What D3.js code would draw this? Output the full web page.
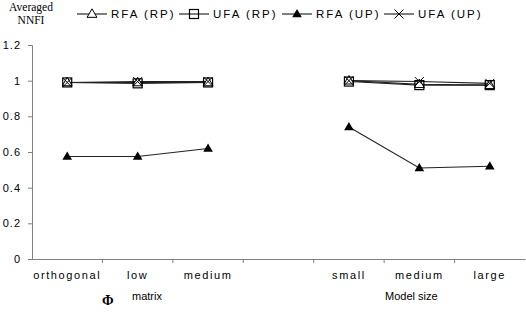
<!DOCTYPE html>
<html>
<head>
<meta charset="utf-8">
<script src="https://cdn.jsdelivr.net/npm/d3@7"></script>
<style>
body{margin:0;background:#fff;}
svg text{font-family:Arial,"Liberation Sans",sans-serif;fill:#000;}
</style>
</head>
<body>
<svg id="chart" width="526" height="313"></svg>
<script>
var categories = ["orthogonal", "low", "medium", "", "small", "medium", "large"];
var rfaRP = [0.99, 0.99, 0.99, null, 1.0, 0.98, 0.975];
var ufaRP = [0.99, 0.985, 0.99, null, 0.995, 0.975, 0.975];
var rfaUP = [0.575, 0.575, 0.62, null, 0.74, 0.51, 0.52];
var ufaUP = [0.99, 0.995, 0.995, null, 1.0, 0.995, 0.985];
var yTicks = [0, 0.2, 0.4, 0.6, 0.8, 1, 1.2];

var series = [
  {name: "RFA (RP)", values: rfaRP, marker: "triOpen"},
  {name: "UFA (RP)", values: ufaRP, marker: "square"},
  {name: "RFA (UP)", values: rfaUP, marker: "triFill"},
  {name: "UFA (UP)", values: ufaUP, marker: "cross"}
];

var svg = d3.select("#chart");

var x = d3.scaleBand().domain(d3.range(categories.length)).range([32, 525]);
var y = d3.scaleLinear().domain([0, 1.2]).range([259, 45]);

// y axis
var yAxis = svg.append("g").attr("transform", "translate(32,0)")
  .call(d3.axisLeft(y).tickValues(yTicks).tickSize(4).tickPadding(7)
    .tickFormat(function(d){ return d; }));
yAxis.select(".domain").attr("stroke", "#808080");
yAxis.selectAll(".tick line").attr("stroke", "#808080");
yAxis.selectAll("text").style("font-size", "11px").style("letter-spacing", "1px");

// x axis
var xAxis = svg.append("g").attr("transform", "translate(0,259)")
  .call(d3.axisBottom(x).tickSize(0).tickPadding(12).tickFormat(function(i){ return categories[i]; }));
xAxis.select(".domain").attr("stroke", "#808080");
xAxis.selectAll("text").style("font-size", "11px").style("letter-spacing", "1.6px");
// tick marks between categories
svg.append("g").selectAll("line").data(d3.range(1, categories.length)).join("line")
  .attr("x1", function(i){ return x(i); }).attr("x2", function(i){ return x(i); })
  .attr("y1", 259).attr("y2", 263).attr("stroke", "#808080");

function drawMarker(g, type, cx, cy){
  if (type == "triOpen") {
    g.append("path").attr("d", d3.symbol(d3.symbolTriangle, 42)())
      .attr("transform", "translate(" + cx + "," + (cy + 0.5) + ")")
      .attr("fill", "#fff").attr("stroke", "#000").attr("stroke-width", 1);
  } else if (type == "square") {
    g.append("rect").attr("x", cx - 4.5).attr("y", cy - 4.5).attr("width", 9).attr("height", 9)
      .attr("fill", "none").attr("stroke", "#000").attr("stroke-width", 1.2);
  } else if (type == "triFill") {
    g.append("path").attr("d", d3.symbol(d3.symbolTriangle, 40)())
      .attr("transform", "translate(" + cx + "," + (cy + 0.5) + ")")
      .attr("fill", "#000");
  } else {
    g.append("path").attr("d", "M" + (cx - 4.5) + "," + (cy - 4.5) + "L" + (cx + 4.5) + "," + (cy + 4.5) +
      "M" + (cx - 4.5) + "," + (cy + 4.5) + "L" + (cx + 4.5) + "," + (cy - 4.5))
      .attr("stroke", "#000").attr("stroke-width", 1);
  }
}

var line = d3.line()
  .defined(function(d){ return d != null; })
  .x(function(d, i){ return x(i) + x.bandwidth() / 2; })
  .y(function(d){ return y(d); });

var plot = svg.append("g");
series.forEach(function(s){
  plot.append("path").attr("d", line(s.values))
    .attr("fill", "none").attr("stroke", "#222").attr("stroke-width", 1.1);
});
series.forEach(function(s){
  s.values.forEach(function(v, i){
    if (v == null) return;
    drawMarker(plot, s.marker, x(i) + x.bandwidth() / 2, y(v));
  });
});

// legend
svg.append("text").attr("x", 31).attr("y", 11).attr("text-anchor", "middle")
  .style("font-family", "'Liberation Serif','Times New Roman',serif").style("font-size", "11.5px").text("Averaged");
svg.append("text").attr("x", 31).attr("y", 24).attr("text-anchor", "middle")
  .style("font-family", "'Liberation Serif','Times New Roman',serif").style("font-size", "11.5px").text("NNFI");

var legX = [77, 179, 282, 384];
series.forEach(function(s, k){
  var lg = svg.append("g");
  lg.append("line").attr("x1", legX[k]).attr("x2", legX[k] + 30).attr("y1", 14).attr("y2", 14)
    .attr("stroke", "#000").attr("stroke-width", 1);
  drawMarker(lg, s.marker, legX[k] + 15, 14);
  lg.append("text").attr("x", legX[k] + 34).attr("y", 18)
    .style("font-size", "11.5px").style("letter-spacing", "2px").text(s.name);
});

// axis titles
svg.append("text").attr("x", 102).attr("y", 305)
  .style("font-family", "'Liberation Serif','Times New Roman',serif").style("font-size", "14px")
  .style("font-weight", "bold").text("Φ");
svg.append("text").attr("x", 132).attr("y", 300).style("font-size", "11px").text("matrix");
svg.append("text").attr("x", 385).attr("y", 300).style("font-size", "11px").text("Model size");
</script>
</body>
</html>
